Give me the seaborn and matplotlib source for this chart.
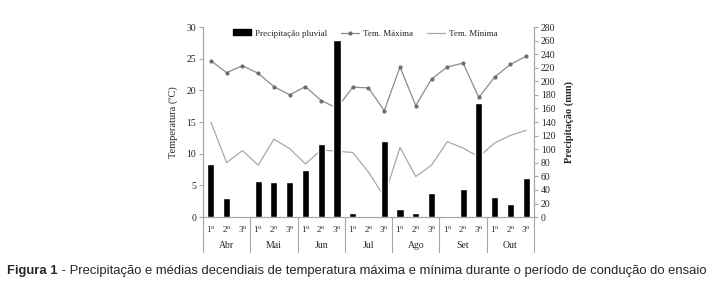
import numpy as np
import pandas as pd
import matplotlib
matplotlib.use('Agg')
import matplotlib.pyplot as plt
import matplotlib.transforms as mtransforms
from matplotlib.lines import Line2D
from matplotlib.patches import Patch
import seaborn as sns

# data
months = ['Abr', 'Mai', 'Jun', 'Jul', 'Ago', 'Set', 'Out']
decendios = [r'1$^{\mathrm{o}}$', r'2$^{\mathrm{o}}$', r'3$^{\mathrm{o}}$']
precip = [78, 28.5, 0, 53.6, 52, 51, 69, 108, 261,
          5.4, 0, 112, 12.3, 5.9, 35.3, 1.0, 41, 168, 30, 20, 58]
tmax = [24.7, 22.8, 23.9, 22.7, 20.6, 19.3, 20.6, 18.4, 17.2,
        20.5, 20.4, 16.8, 23.7, 17.6, 21.8, 23.7, 24.3, 18.9, 22.1, 24.1, 25.4]
tmin = [15.0, 8.6, 10.5, 8.2, 12.3, 10.8, 8.4, 10.6, 10.4,
        10.2, 7.1, 3.2, 11.0, 6.4, 8.2, 11.9, 10.9, 9.5, 11.7, 12.9, 13.7]

df = pd.DataFrame({'pos': np.arange(len(precip)),
                   'precip': precip, 'tmax': tmax, 'tmin': tmin})

sns.set_style('white')
plt.rcParams['font.family'] = ['Liberation Serif', 'DejaVu Serif']
plt.rcParams['mathtext.fontset'] = 'custom'
plt.rcParams['mathtext.rm'] = 'Liberation Serif'

fig = plt.figure(figsize=(7.16, 2.99), dpi=100)
ax = fig.add_axes([0.2835, 0.274, 0.4623, 0.6355])
ax2 = ax.twinx()

gray = '#a6a6a6'
sns.lineplot(data=df, x='pos', y='tmax', ax=ax, color='#8c8c8c', lw=0.9,
             marker='o', markersize=3, markeredgewidth=0, markerfacecolor='#6e6e6e')
sns.lineplot(data=df, x='pos', y='tmin', ax=ax, color='#a8a8a8', lw=0.9)

# bars on numeric x so they line up with the lines
sns.barplot(x=df['pos'], y=df['precip'], ax=ax2, color='black',
            width=0.45, native_scale=True, saturation=1, zorder=3)

ax.set_xlim(-0.5, 20.5)
ax.set_ylim(0, 30)
ax2.set_ylim(0, 280)
ax.set_yticks(range(0, 31, 5))
ax2.set_yticks(range(0, 281, 20))

for a in (ax, ax2):
    for s in a.spines.values():
        s.set_color(gray)
        s.set_linewidth(0.8)
    a.spines['top'].set_visible(False)
    a.tick_params(axis='y', which='major', direction='out', length=3,
                  width=0.8, color=gray, labelsize=7, pad=2)

ax.set_ylabel('Temperatura (ºC)', fontsize=7.5, labelpad=6)
ax2.set_ylabel('Precipitação (mm)', fontsize=7.5, fontweight='bold', labelpad=6)
ax2.set_xlabel('')
ax.set_xlabel('')

# two-level category axis (the visible x axis belongs to ax)
ax.set_xticks(np.arange(-0.5, 21, 1))
ax.set_xticklabels([])
ax.set_xticks(np.arange(21), minor=True)
ax.set_xticklabels(decendios * len(months), minor=True)
ax.tick_params(axis='x', which='major', direction='out', length=10.5,
               width=0.8, color=gray)
ax.tick_params(axis='x', which='minor', length=0, labelsize=6.5, pad=5)

trans = mtransforms.blended_transform_factory(ax.transData, ax.transAxes)
for i in range(len(months) + 1):
    ax.add_line(Line2D([i * 3 - 0.5, i * 3 - 0.5], [0, -0.185], transform=trans,
                       color=gray, lw=0.8, clip_on=False))
for i, m in enumerate(months):
    ax.text(i * 3 + 1, -0.15, m, transform=trans, ha='center', va='center',
            fontsize=7)

# legend
handles = [Patch(facecolor='black', edgecolor='black'),
           Line2D([], [], color='#8c8c8c', lw=0.9, marker='o', markersize=3,
                  markeredgewidth=0, markerfacecolor='#6e6e6e'),
           Line2D([], [], color='#a8a8a8', lw=0.9)]
ax2.legend(handles, ['Precipitação pluvial', 'Tem. Máxima', 'Tem. Mínima'],
           loc='upper center', bbox_to_anchor=(0.49, 1.03), ncol=3, frameon=False,
           fontsize=6.5, handlelength=2.0, handleheight=0.6, columnspacing=1.6,
           handletextpad=0.4)

# caption, sized to span the figure width
cap_font = ['Liberation Sans Narrow', 'Liberation Sans', 'DejaVu Sans']
cap_rest = ' - Precipitação e médias decendiais de temperatura máxima e mínima durante o período de condução do ensaio'
fig.canvas.draw()
r = fig.canvas.get_renderer()
fs = 9.5
t1 = fig.text(0.01, 0.095, 'Figura 1', fontsize=fs, fontweight='bold',
              family=cap_font, va='center')
t2 = fig.text(0, 0.095, cap_rest, fontsize=fs, family=cap_font, va='center')
w = t1.get_window_extent(renderer=r).width + t2.get_window_extent(renderer=r).width
fs = fs * 700 / w
t1.set_fontsize(fs)
t2.set_fontsize(fs)
bb = t1.get_window_extent(renderer=r)
t2.set_x(bb.x1 / fig.bbox.width)

fig.savefig('out.png', dpi=100)
